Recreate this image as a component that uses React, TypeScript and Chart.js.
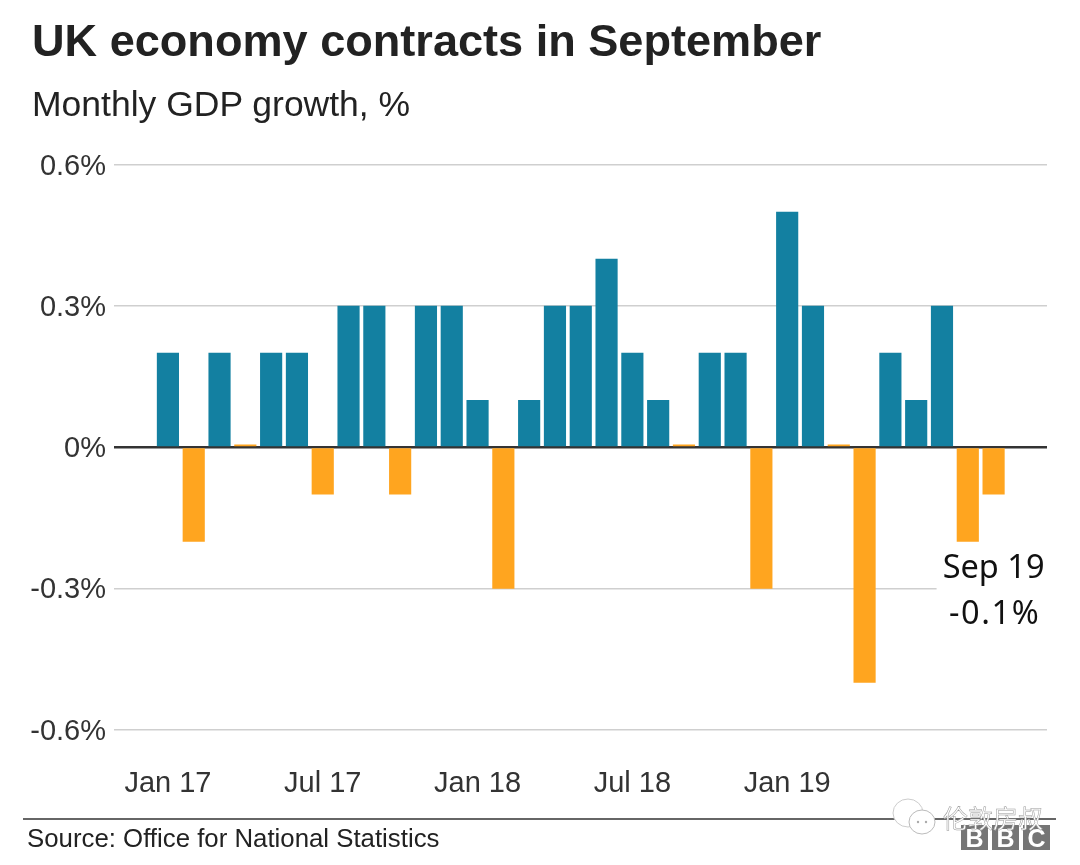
import React, { useEffect, useRef } from "react";
import { Chart, registerables } from "chart.js";

Chart.register(...registerables);

const months = [
  "Jan 17", "Feb 17", "Mar 17", "Apr 17", "May 17", "Jun 17", "Jul 17", "Aug 17", "Sep 17", "Oct 17", "Nov 17", "Dec 17",
  "Jan 18", "Feb 18", "Mar 18", "Apr 18", "May 18", "Jun 18", "Jul 18", "Aug 18", "Sep 18", "Oct 18", "Nov 18", "Dec 18",
  "Jan 19", "Feb 19", "Mar 19", "Apr 19", "May 19", "Jun 19", "Jul 19", "Aug 19", "Sep 19",
];
const growth = [
  0.2, -0.2, 0.2, 0.005, 0.2, 0.2, -0.1, 0.3, 0.3, -0.1, 0.3, 0.3,
  0.1, -0.3, 0.1, 0.3, 0.3, 0.4, 0.2, 0.1, 0.005, 0.2, 0.2, -0.3,
  0.5, 0.3, 0.005, -0.5, 0.2, 0.1, 0.3, -0.2, -0.1,
];
const xTickMonths = ["Jan 17", "Jul 17", "Jan 18", "Jul 18", "Jan 19"];
const yTicks = [0.6, 0.3, 0, -0.3, -0.6];
const yTickLabels = ["0.6%", "0.3%", "0%", "-0.3%", "-0.6%"];
const titleText = "UK economy contracts in September";
const subtitleText = "Monthly GDP growth, %";
const sourceText = "Source: Office for National Statistics";
const calloutLines = ["Sep 19", "-0.1%"];
const watermarkText = "伦敦房叔";
const logoLetters = ["B", "B", "C"];

const BLUE = "#1380A1";
const ORANGE = "#FFA51F";
const SANS = '"Liberation Sans", Arial, sans-serif';

const calloutPlugin = {
  id: "callout",
  afterDatasetsDraw(chart: any) {
    const { ctx, scales } = chart;
    const x = scales.x.getPixelForValue(months.indexOf("Sep 19"));
    const y = scales.y.getPixelForValue(-0.3);
    ctx.save();
    // white plate that interrupts the -0.3 gridline behind the label
    ctx.fillStyle = "#fff";
    ctx.fillRect(x - 57, y - 4, 115, 8);
    ctx.fillStyle = "#111";
    ctx.font = '32.5px "Noto Sans", sans-serif';
    ctx.textAlign = "center";
    ctx.textBaseline = "middle";
    ctx.fillText(calloutLines[0], x, y - 20);
    ctx.letterSpacing = "1.6px";
    ctx.fillText(calloutLines[1], x + 1, y + 26);
    ctx.restore();
  },
};

export default function App() {
  const ref = useRef<HTMLCanvasElement>(null);

  useEffect(() => {
    document.body.style.margin = "0";
    const chart = new Chart(ref.current!, {
      type: "bar",
      data: {
        datasets: [
          {
            data: growth.map((v, i) => ({ x: i, y: v })),
            backgroundColor: growth.map((v) => (v >= 0.05 ? BLUE : ORANGE)),
            barThickness: 21.5,
            borderWidth: 0,
          },
        ],
      },
      plugins: [calloutPlugin],
      options: {
        responsive: false,
        animation: false,
        devicePixelRatio: 1,
        layout: { padding: { top: 165, right: 33, bottom: 65.5, left: 0 } },
        plugins: { legend: { display: false }, tooltip: { enabled: false }, title: { display: false } },
        scales: {
          x: {
            type: "linear",
            offset: false,
            min: -2.09,
            max: 34.07,
            grid: { display: false, drawTicks: false },
            border: { display: false },
            afterBuildTicks: (s: any) => {
              s.ticks = xTickMonths.map((m) => ({ value: months.indexOf(m) }));
            },
            afterFit: (s: any) => {
              s.height = 70;
            },
            ticks: {
              autoSkip: false,
              maxRotation: 0,
              padding: 37,
              color: "#333",
              font: { family: SANS, size: 29 },
              callback: (v: any) => months[v],
            },
          },
          y: {
            type: "linear",
            min: -0.6,
            max: 0.6,
            grid: {
              drawTicks: false,
              color: (c: any) => (c.tick && c.tick.value === 0 ? "#333" : "#cfcfcf"),
              lineWidth: (c: any) => (c.tick && c.tick.value === 0 ? 2.5 : 1.6),
            },
            border: { display: false },
            afterBuildTicks: (s: any) => {
              s.ticks = yTicks.map((v) => ({ value: v }));
            },
            afterFit: (s: any) => {
              s.width = 114;
            },
            ticks: {
              autoSkip: false,
              padding: 8,
              labelOffset: 2,
              color: "#333",
              font: { family: SANS, size: 29 },
              callback: (v: any) => yTickLabels[yTicks.indexOf(v)],
            },
          },
        },
      },
    } as any);
    return () => chart.destroy();
  }, []);

  const abs = (o: React.CSSProperties): React.CSSProperties => ({ position: "absolute", whiteSpace: "nowrap", ...o });

  return (
    <div style={{ position: "relative", width: 1080, height: 865, background: "#fff", overflow: "hidden", fontFamily: SANS }}>
      <canvas ref={ref} width={1080} height={865} style={{ position: "absolute", left: 0, top: 0, display: "block" }} />
      <div style={abs({ left: 32, top: 15, fontSize: 45.1, lineHeight: "52px", fontWeight: 700, color: "#222" })}>{titleText}</div>
      <div style={abs({ left: 32, top: 82, fontSize: 35.5, lineHeight: "44px", color: "#222" })}>{subtitleText}</div>
      <div style={abs({ left: 23, top: 818, width: 1033, height: 2, background: "#666" })} />
      <div style={abs({ left: 27, top: 824, fontSize: 25.8, lineHeight: "28px", color: "#222" })}>{sourceText}</div>
      {logoLetters.map((l, i) => (
        <div
          key={i}
          style={abs({
            left: 961 + i * 31,
            top: 825,
            width: 27,
            height: 25,
            background: "#757575",
            color: "#fff",
            fontSize: 25,
            lineHeight: "26px",
            fontWeight: 700,
            textAlign: "center",
          })}
        >
          {l}
        </div>
      ))}
      <svg width={50} height={42} style={abs({ left: 892, top: 797 })}>
        <ellipse cx={16} cy={16} rx={15} ry={14} fill="#fff" stroke="#ccc" strokeWidth={1} />
        <ellipse cx={30} cy={25} rx={13} ry={12} fill="#fff" stroke="#bbb" strokeWidth={1} />
        <circle cx={26} cy={25} r={1.2} fill="#aaa" />
        <circle cx={34} cy={25} r={1.2} fill="#aaa" />
      </svg>
      <div
        style={abs({
          left: 943,
          top: 800,
          fontSize: 25,
          lineHeight: "34px",
          fontFamily: '"Noto Sans CJK SC", sans-serif',
          color: "#fff",
          WebkitTextStroke: "0.5px #999",
        })}
      >
        {watermarkText}
      </div>
    </div>
  );
}
